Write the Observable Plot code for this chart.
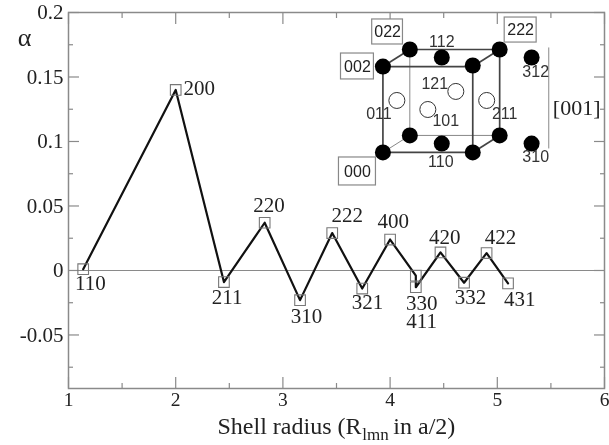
<!DOCTYPE html>
<html><head><meta charset="utf-8">
<script src="https://cdn.jsdelivr.net/npm/d3@7"></script>
<script src="https://cdn.jsdelivr.net/npm/@observablehq/plot@0.6"></script>
<style>html,body{margin:0;padding:0;background:#fff}svg{display:block;filter:blur(0.45px)}</style>
</head><body><div id="c"></div><script>
// Shell data
const shells=["110","200","211","220","310","222","321","400","330","411","420","332","422","431"];
const radius=[1.137,2,2.45,2.83,3.16,3.46,3.74,4,4.24,4.24,4.47,4.69,4.9,5.1];
const alpha=[0.001,0.14,-0.009,0.037,-0.023,0.029,-0.014,0.024,-0.004,-0.013,0.014,-0.0095,0.0135,-0.01];
const labelTexts=["110","200","211","220","310","222","321","400","330\n411","420","332","422","431"];
const labelX=[1.205,2.22,2.48,2.87,3.22,3.6,3.79,4.03,4.295,4.51,4.75,5.03,5.21];
const labelY=[-0.0108,0.141,-0.021,0.05,-0.036,0.042,-0.025,0.038,-0.0329,0.025,-0.021,0.025,-0.023];
const xMajor=[1,2,3,4,5,6], xMinor=[1.5,2.5,3.5,4.5,5.5];
const yMajor=[-0.05,0,0.05,0.1,0.15,0.2], yMinor=[-0.075,-0.025,0.025,0.075,0.125,0.175];
// Inset (in chart units)
const filledX=[3.933,4.184,4.482,4.771,5.022,5.32,3.933,4.184,4.482,4.771,5.022,5.32];
const filledY=[0.1581,0.1713,0.1651,0.1589,0.1713,0.1651,0.0915,0.1047,0.0984,0.0915,0.1047,0.0984];
const openX=[4.063,4.352,4.613,4.901], openY=[0.1318,0.1248,0.1388,0.1318];
const thickEdges=[[3.933,0.1581,3.933,0.0915],[3.933,0.1581,4.771,0.1581],[3.933,0.0915,4.771,0.0915],[4.771,0.1581,4.771,0.0915],[4.184,0.1713,5.022,0.1713],[5.022,0.1713,5.022,0.1047],[3.933,0.1581,4.184,0.1713],[4.771,0.1581,5.022,0.1713],[4.771,0.0915,5.022,0.1047]];
const thinEdges=[[4.184,0.1713,4.184,0.1047],[4.184,0.1047,5.022,0.1047],[3.933,0.0915,4.184,0.1047],[5.48,0.1729,5.48,0.0946]];
const boxNames=["022","222","002","000"];
const boxX1=[3.833,5.069,3.542,3.523], boxX2=[4.12,5.367,3.849,3.868];
const boxY1=[0.1752,0.1767,0.1481,0.0659], boxY2=[0.1946,0.1961,0.1682,0.0876];
const siteNames=["112","121","011","101","211","110","312","310"];
const siteX=[4.482,4.417,3.896,4.519,5.069,4.473,5.358,5.358];
const siteY=[0.1775,0.145,0.1217,0.1163,0.1217,0.0845,0.1543,0.0884];

const X0=1,X1=6,Y0=-0.0915,Y1=0.2;
const gray="#8a8a8a", ink="#222", serif="Liberation Serif", sans="Liberation Sans";
const pts=shells.map((s,i)=>({s,x:radius[i],y:alpha[i]}));
const labels=labelTexts.map((t,i)=>({t,x:labelX[i],y:labelY[i]}));
const seg=a=>a.map(([x1,y1,x2,y2])=>({x1,y1,x2,y2}));
const boxes=boxNames.map((n,i)=>({n,x1:boxX1[i],x2:boxX2[i],y1:boxY1[i],y2:boxY2[i]}));
const sites=siteNames.map((n,i)=>({n,x:siteX[i],y:siteY[i]}));
const xAxis=(anchor,ticks,size)=>Plot.axisX(ticks,{anchor,tickSize:size,stroke:gray,strokeWidth:1.2,text:null,label:null});
const yAxis=(anchor,ticks,size)=>Plot.axisY(ticks,{anchor,tickSize:size,stroke:gray,strokeWidth:1.2,text:null,label:null});

const chart=Plot.plot({
  width:609,height:445,marginLeft:68,marginRight:5,marginTop:12,marginBottom:57,
  style:{background:"#fff",fontFamily:serif},
  x:{domain:[X0,X1]},y:{domain:[Y0,Y1]},
  marks:[
    Plot.frame({stroke:gray,strokeWidth:1.5}),
    xAxis("bottom",xMajor,-11),xAxis("bottom",xMinor,-5),
    xAxis("top",xMajor,-11),xAxis("top",xMinor,-5),
    yAxis("left",yMajor,-11),yAxis("left",yMinor,-5),
    yAxis("right",yMajor,-11),yAxis("right",yMinor,-5),
    Plot.axisX(xMajor,{anchor:"bottom",tickSize:0,tickPadding:4,fontSize:19.5,label:null,fill:ink,tickFormat:d=>String(d)}),
    Plot.axisY(yMajor,{anchor:"left",tickSize:0,tickPadding:5,fontSize:21,label:null,fill:ink,tickFormat:d=>String(d)}),
    Plot.ruleY([0],{stroke:gray,strokeWidth:1.2}),
    // inset
    Plot.link(seg(thinEdges),{x1:"x1",y1:"y1",x2:"x2",y2:"y2",stroke:"#888",strokeWidth:1}),
    Plot.link(seg(thickEdges),{x1:"x1",y1:"y1",x2:"x2",y2:"y2",stroke:"#444",strokeWidth:1.7}),
    Plot.rect(boxes,{x1:"x1",x2:"x2",y1:"y1",y2:"y2",stroke:"#888",strokeWidth:1.2,fill:"#fff"}),
    Plot.text(boxes,{x:d=>(d.x1+d.x2)/2,y:d=>(d.y1+d.y2)/2,text:"n",fontFamily:sans,fontSize:16,fill:ink}),
    Plot.dot(filledX.map((x,i)=>({x,y:filledY[i]})),{x:"x",y:"y",r:8,fill:"#000"}),
    Plot.dot(openX.map((x,i)=>({x,y:openY[i]})),{x:"x",y:"y",r:8,stroke:"#333",strokeWidth:1,fill:"#fff"}),
    Plot.text(sites,{x:"x",y:"y",text:"n",fontFamily:sans,fontSize:16,fill:"#333"}),
    Plot.text(["[001]"],{x:5.74,y:0.126,text:d=>d,fontSize:22,fontFamily:serif,fill:ink}),
    // data
    Plot.line(pts,{x:"x",y:"y",stroke:"#111",strokeWidth:2.2}),
    Plot.dot(pts,{x:"x",y:"y",symbol:"square",r:6,stroke:"#777",strokeWidth:1.1,fill:"none"}),
    Plot.text(labels,{x:"x",y:"y",text:"t",fontSize:21,lineHeight:0.9,fill:ink,fontFamily:serif}),
    // titles
    Plot.text(["α"],{x:0.59,y:0.1805,text:d=>d,fontSize:26,fontFamily:serif,fill:ink}),
    Plot.text(["Shell radius (R"],{x:2.39,y:-0.1205,text:d=>d,textAnchor:"start",fontSize:24,fontFamily:serif,fill:ink}),
    Plot.text(["lmn"],{x:3.74,y:-0.1275,text:d=>d,textAnchor:"start",fontSize:17,fontFamily:serif,fill:ink}),
    Plot.text(["in a/2)"],{x:4.03,y:-0.1205,text:d=>d,textAnchor:"start",fontSize:24,fontFamily:serif,fill:ink})
  ]
});
document.getElementById("c").append(chart);
</script></body></html>
